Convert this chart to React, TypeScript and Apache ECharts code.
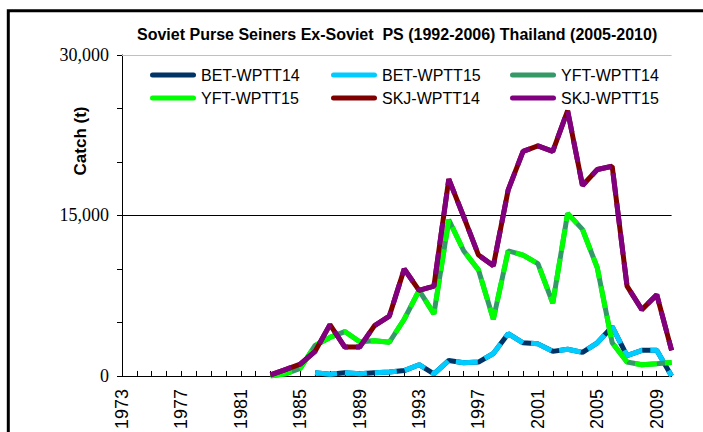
import React, { useEffect, useRef } from "react";
import * as echarts from "echarts";

const years: string[] = [];
for (let y = 1973; y <= 2010; y++) years.push(String(y));

// values (tonnes)
const betStart = 1986;
const betWPTT14 = [300, 150, 300, 200, 300, 370, 500, 1050, 200, 1450, 1240, 1300, 2100, 3950, 3100, 3000, 2300, 2500, 2200, 3100, 4600, 1900, 2400, 2400, 0];
const betWPTT15 = [300, 150, 300, 200, 300, 370, 500, 1050, 200, 1450, 1240, 1300, 2100, 3950, 3100, 3000, 2300, 2500, 2200, 3100, 4600, 1900, 2400, 2400, 0];
const yftStart = 1983;
const yftWPTT14 = [0, 200, 700, 2850, 3600, 4150, 3200, 3300, 3150, 5300, 8000, 5800, 14600, 11700, 9900, 5300, 11700, 11300, 10500, 6800, 15200, 13700, 10100, 3100, 1300, 1050, 1150, 1250];
const yftWPTT15 = [0, 200, 700, 2850, 3600, 4150, 3200, 3300, 3150, 5300, 8000, 5800, 14600, 11700, 9900, 5300, 11700, 11300, 10500, 6800, 15200, 13700, 10100, 3100, 1300, 1050, 1150, 1250];
const skjStart = 1983;
const skjWPTT14 = [100, 600, 1100, 2300, 4800, 2700, 2700, 4700, 5600, 10000, 8000, 8400, 18400, 14900, 11300, 10300, 17400, 21000, 21500, 21000, 24800, 17800, 19300, 19600, 8400, 6200, 7600, 2400];
const skjWPTT15 = [100, 600, 1100, 2300, 4800, 2700, 2700, 4700, 5600, 10000, 8000, 8400, 18400, 14900, 11300, 10300, 17400, 21000, 21500, 21000, 24800, 17800, 19300, 19600, 8400, 6200, 7600, 2400];

const yLabels = [0, 15000, 30000];

const names = ["BET-WPTT14", "BET-WPTT15", "YFT-WPTT14", "YFT-WPTT15", "SKJ-WPTT14", "SKJ-WPTT15"];
const colors = ["#003366", "#00CCFF", "#339966", "#00FF00", "#800000", "#800080"];

function pad(start: number, vals: number[]): (number | null)[] {
  const out: (number | null)[] = [];
  for (let y = 1973; y < start; y++) out.push(null);
  return out.concat(vals);
}

export default function App() {
  const ref = useRef<HTMLDivElement>(null);
  useEffect(() => {
    const chart = echarts.init(ref.current!, undefined, { renderer: "svg" });
    const seriesData = [
      pad(betStart, betWPTT14),
      pad(betStart, betWPTT15),
      pad(yftStart, yftWPTT14),
      pad(yftStart, yftWPTT15),
      pad(skjStart, skjWPTT14),
      pad(skjStart, skjWPTT15),
    ];
    const iconPath = "path://M2.5,0L43.5,0A2.5,2.5,0,0,1,43.5,5L2.5,5A2.5,2.5,0,0,1,2.5,0Z";
    const legendPos = [
      [150, 67], [331, 67], [510, 67],
      [150, 90], [331, 90], [510, 90],
    ];
    const legends = names.map((n, i) => ({
      data: [n],
      left: legendPos[i][0],
      top: legendPos[i][1],
      padding: 0,
      icon: iconPath,
      itemWidth: 46,
      itemHeight: 5,
      selectedMode: false,
      textStyle: { fontFamily: "Liberation Sans, Arial", fontSize: 16, color: "#000" },
    }));
    const series: any[] = names.map((n, i) => ({
      name: n,
      type: "line",
      data: seriesData[i],
      showSymbol: false,
      symbol: "none",
      connectNulls: false,
      color: colors[i],
      lineStyle: {
        color: colors[i],
        width: 5,
        type: i % 2 === 1 ? [22, 8] : "solid",
      },
      z: 3 + i,
    }));
    series[0].markLine = {
      silent: true,
      symbol: "none",
      label: { show: false },
      animation: false,
      data: [
        { yAxis: 15000, lineStyle: { color: "#000", width: 1, type: "solid" } },
        { yAxis: 30000, lineStyle: { color: "#C0C0C0", width: 1, type: "solid" } },
      ],
    };
    chart.setOption({
      animation: false,
      title: {
        text: "Soviet Purse Seiners Ex-Soviet  PS (1992-2006) Thailand (2005-2010)",
        left: 137,
        top: 26,
        padding: 0,
        textStyle: { fontFamily: "Liberation Sans, Arial", fontSize: 16, fontWeight: "bold", color: "#000" },
      },
      legend: legends,
      grid: { left: 122, right: 31.4, top: 55, bottom: 54.7, containLabel: false },
      xAxis: {
        type: "category",
        data: years,
        boundaryGap: false,
        axisLine: { show: true, lineStyle: { color: "#000", width: 1 } },
        axisTick: { show: true, inside: true, length: 5, interval: 0, lineStyle: { color: "#000" } },
        axisLabel: {
          interval: 3,
          rotate: 90,
          margin: 13,
          fontFamily: "Liberation Sans, Arial",
          fontSize: 18,
          color: "#000",
        },
        splitLine: { show: false },
      },
      yAxis: {
        type: "value",
        min: 0,
        max: 30000,
        interval: 5000,
        axisLine: { show: true, lineStyle: { color: "#000", width: 1 } },
        axisTick: { show: true, inside: false, length: 5, lineStyle: { color: "#000" } },
        axisLabel: {
          margin: 13,
          fontFamily: "Liberation Serif, Times New Roman, serif",
          fontSize: 18,
          color: "#000",
          formatter: (v: number) => (yLabels.indexOf(v) >= 0 ? v.toLocaleString("en-US") : ""),
        },
        splitLine: { show: false },
      },
      graphic: [
        {
          type: "rect",
          shape: { x: 8.3, y: 10.7, width: 1000, height: 1000 },
          style: { fill: "none", stroke: "#000", lineWidth: 3 },
          silent: true,
        },
        {
          type: "text",
          x: 80,
          y: 141,
          rotation: Math.PI / 2,
          style: {
            text: "Catch (t)",
            fontFamily: "Liberation Sans, Arial",
            fontSize: 17,
            fontWeight: "bold",
            fill: "#000",
            align: "center",
            verticalAlign: "middle",
          },
        },
      ],
      series,
    });
    return () => chart.dispose();
  }, []);
  return (
    <div
      ref={ref}
      style={{ position: "fixed", left: 0, top: 0, width: 703, height: 432, background: "#fff" }}
    />
  );
}
